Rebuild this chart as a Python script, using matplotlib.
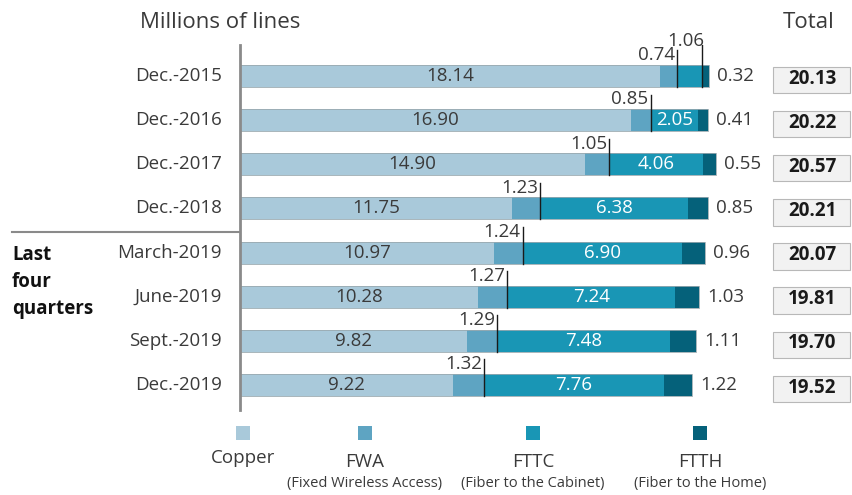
import matplotlib.pyplot as plt
from matplotlib.patches import Rectangle
import numpy as np

plt.rcParams['font.family'] = ['Open Sans', 'DejaVu Sans']

periods = ['Dec.-2015', 'Dec.-2016', 'Dec.-2017', 'Dec.-2018',
           'March-2019', 'June-2019', 'Sept.-2019', 'Dec.-2019']
copper = [18.14, 16.90, 14.90, 11.75, 10.97, 10.28, 9.82, 9.22]
fwa = [0.74, 0.85, 1.05, 1.23, 1.24, 1.27, 1.29, 1.32]
fttc = [1.06, 2.05, 4.06, 6.38, 6.90, 7.24, 7.48, 7.76]
ftth = [0.32, 0.41, 0.55, 0.85, 0.96, 1.03, 1.11, 1.22]
totals = ['20.13', '20.22', '20.57', '20.21', '20.07', '19.81', '19.70', '19.52']

series_names = ['Copper', 'FWA', 'FTTC', 'FTTH']
series_notes = ['', '(Fixed Wireless Access)', '(Fiber to the Cabinet)', '(Fiber to the Home)']
colors = ['#a9c9da', '#5ea4c2', '#1996b5', '#05617a']
txt = '#3a3a3a'
fs = 13.5

W, H = 853, 495
fig = plt.figure(figsize=(W / 100, H / 100), dpi=100)

# axes placed in pixel terms: left spine at x=240, bars from y=45 to 410
px_per_unit = 23.15
row_px = 44.14
top_px, bot_px = 45, 410
ax = fig.add_axes([240 / W, 1 - bot_px / H, 1 - 240 / W, (bot_px - top_px) / H])
ax.set_xlim(0, (W - 240) / px_per_unit)
ax.set_ylim((bot_px - 76) / row_px, (top_px - 76) / row_px)
for s in ['top', 'right', 'bottom']:
    ax.spines[s].set_visible(False)
ax.spines['left'].set_color('#8a8a8a')
ax.spines['left'].set_linewidth(2)
ax.set_xticks([])
ax.set_yticks([])

y = np.arange(len(periods))
h = 0.5
c = np.array(copper)
f = np.array(fwa)
t = np.array(fttc)
th = np.array(ftth)
left = np.zeros(len(y))
for vals, col in zip([c, f, t, th], colors):
    ax.barh(y, vals, left=left, height=h, color=col, edgecolor='none')
    left = left + vals
# faint outline round whole bar
ax.barh(y, left, height=h, fill=False, edgecolor='#9aa9b0', linewidth=0.6)

for i in range(len(y)):
    # copper label
    ax.text(c[i] / 2, y[i], f'{copper[i]:.2f}', ha='center', va='center',
            fontsize=fs, color=txt)
    # FWA label with marker line
    x_fwa = c[i] + f[i]
    ax.plot([x_fwa, x_fwa], [y[i] + h / 2, y[i] - h / 2 - 0.33], color='#1a1a1a', lw=1)
    ax.text(x_fwa - 0.1, y[i] - h / 2 - 0.22, f'{fwa[i]:.2f}', ha='right', va='center',
            fontsize=fs, color=txt)
    x_fttc = x_fwa + t[i]
    if i == 0:
        ax.plot([x_fttc, x_fttc], [y[i] + h / 2, y[i] - h / 2 - 0.7], color='#1a1a1a', lw=1)
        ax.text(x_fttc + 0.1, y[i] - h / 2 - 0.54, f'{fttc[i]:.2f}', ha='right', va='center',
                fontsize=fs, color=txt)
    else:
        ax.text(x_fwa + t[i] / 2, y[i], f'{fttc[i]:.2f}', ha='center', va='center',
                fontsize=fs, color='white')
    ax.text(x_fttc + th[i] + 0.35, y[i], f'{ftth[i]:.2f}', ha='left', va='center',
            fontsize=fs, color=txt)
    # total box
    ax.add_patch(Rectangle(((773 - 240) / px_per_unit, y[i] - 0.27 + 0.06),
                           77 / px_per_unit, 0.6, facecolor='#f2f2f2',
                           edgecolor='#b8b8b8', lw=0.8, clip_on=False))
    ax.text((812 - 240) / px_per_unit, y[i] + 0.06, totals[i], ha='center', va='center',
            fontsize=fs, fontweight='bold', color='#1a1a1a', clip_on=False)
    # category label
    ax.text(-18 / px_per_unit, y[i], periods[i], ha='right', va='center',
            fontsize=fs, color=txt, clip_on=False)

# separator of the last four quarters
sep_y = (232 - 76) / row_px
ax.plot([-228 / px_per_unit, 0], [sep_y, sep_y], color='#8a8a8a', lw=1.5, clip_on=False)
ax.text(-228 / px_per_unit, 3.83, 'Last\nfour\nquarters', ha='left', va='top',
        fontsize=fs, fontweight='bold', color='#111111', linespacing=1.45, clip_on=False)

fig.text(140 / W, 1 - 22 / H, 'Millions of lines', ha='left', va='center',
         fontsize=16, color=txt)
fig.text(809 / W, 1 - 22 / H, 'Total', ha='center', va='center',
         fontsize=16, color=txt)

# legend
leg_x = [243, 365, 533, 700]
for lx, name, note, col in zip(leg_x, series_names, series_notes, colors):
    fig.add_artist(Rectangle(((lx - 7) / W, 1 - 440 / H), 14 / W, 14 / H,
                             facecolor=col, edgecolor='none', transform=fig.transFigure))
    ty = 458 if name == 'Copper' else 462
    fig.text(lx / W, 1 - ty / H, name, ha='center', va='center', fontsize=fs, color=txt)
    if note:
        fig.text(lx / W, 1 - 483 / H, note, ha='center', va='center', fontsize=10.5, color=txt)

fig.savefig('out.png', dpi=100)
